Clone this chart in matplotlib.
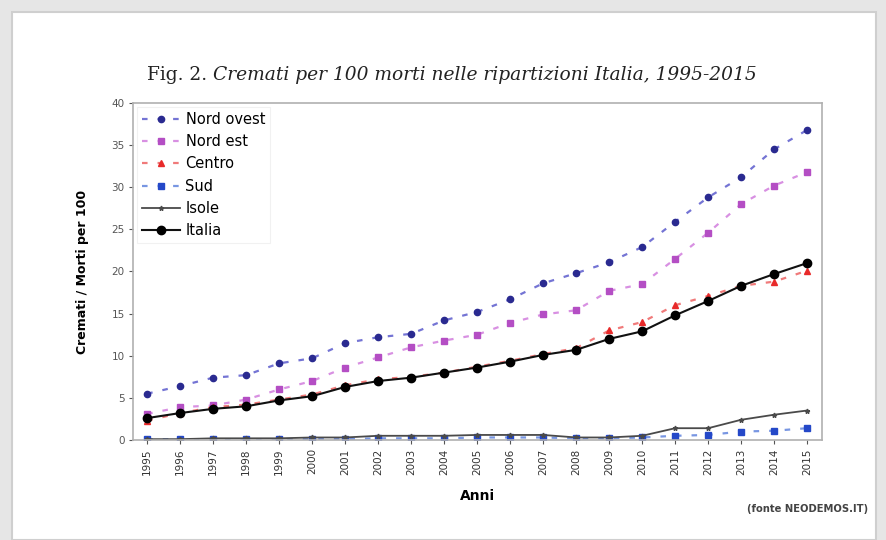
"""Fig. 2 - Cremati per 100 morti nelle ripartizioni Italia, 1995-2015."""
import matplotlib
matplotlib.use("Agg")
import matplotlib.pyplot as plt
from matplotlib.patches import Rectangle

YEARS = list(range(1995, 2016))

NORD_OVEST = [5.5, 6.4, 7.4, 7.7, 9.1, 9.7, 11.5, 12.2, 12.6, 14.2, 15.2,
              16.7, 18.6, 19.8, 21.1, 22.9, 25.9, 28.8, 31.2, 34.5, 36.8]
NORD_EST = [3.1, 3.9, 4.1, 4.8, 6.0, 7.0, 8.6, 9.8, 11.0, 11.8, 12.5,
            13.9, 14.9, 15.4, 17.7, 18.5, 21.5, 24.6, 28.0, 30.2, 31.8]
CENTRO = [2.3, 3.2, 3.9, 4.2, 4.8, 5.4, 6.5, 7.2, 7.5, 8.0, 8.7,
          9.4, 10.2, 10.9, 13.0, 14.0, 16.0, 17.1, 18.3, 18.8, 20.1]
SUD = [0.1, 0.1, 0.1, 0.1, 0.1, 0.1, 0.1, 0.2, 0.2, 0.2, 0.3,
       0.3, 0.3, 0.2, 0.2, 0.3, 0.5, 0.6, 1.0, 1.1, 1.4]
ISOLE = [0.1, 0.1, 0.2, 0.2, 0.2, 0.3, 0.3, 0.5, 0.5, 0.5, 0.6,
         0.6, 0.6, 0.3, 0.3, 0.5, 1.4, 1.4, 2.4, 3.0, 3.5]
ITALIA = [2.6, 3.2, 3.7, 4.0, 4.7, 5.2, 6.3, 7.0, 7.4, 8.0, 8.6,
          9.3, 10.1, 10.7, 12.0, 12.9, 14.8, 16.5, 18.3, 19.7, 21.0]

DASH = (0, (2.5, 4.5))

fig = plt.figure(figsize=(8.86, 5.40), dpi=100)
fig.patch.set_facecolor("#e6e6e6")
fig.add_artist(Rectangle((12 / 886, 0), 864 / 886, 528 / 540,
                         transform=fig.transFigure, facecolor="white",
                         edgecolor="#cfcfcf", lw=1.5, zorder=0))

ax = fig.add_axes([133 / 886, 100 / 540, 689 / 886, 337 / 540])
ax.set_facecolor("white")

ax.plot(YEARS, NORD_OVEST, ls=DASH, color="#7474d4", lw=1.6,
        marker="o", ms=4.5, mfc="#2a2a90", mec="#2a2a90", label="Nord ovest")
ax.plot(YEARS, NORD_EST, ls=DASH, color="#d890e2", lw=1.6,
        marker="s", ms=5, mfc="#b44ec4", mec="#b44ec4", label="Nord est")
ax.plot(YEARS, CENTRO, ls=DASH, color="#f07a7a", lw=1.6,
        marker="^", ms=5, mfc="#e82a2a", mec="#e82a2a", label="Centro")
ax.plot(YEARS, SUD, ls=DASH, color="#7896e2", lw=1.6,
        marker="s", ms=4.5, mfc="#2448c8", mec="#2448c8", label="Sud")
ax.plot(YEARS, ISOLE, ls="-", color="#4a4a4a", lw=1.3,
        marker="*", ms=3.5, mfc="#4a4a4a", mec="#4a4a4a", label="Isole")
ax.plot(YEARS, ITALIA, ls="-", color="#111111", lw=1.5,
        marker="o", ms=6, mfc="black", mec="black", label="Italia")

ax.set_xlim(1994.57, 2015.45)
ax.set_ylim(0, 40)
ax.set_yticks(range(0, 41, 5))
ax.set_xticks(YEARS)
ax.set_xticklabels([str(y) for y in YEARS], rotation=90)
ax.tick_params(axis="both", labelsize=7.5, colors="#555555",
               length=3, width=0.8, pad=3)
ax.tick_params(axis="x", labelcolor="#333333")
for s in ax.spines.values():
    s.set_color("#b0b0b0")
    s.set_linewidth(1.2)

ax.set_xlabel("Anni", fontsize=10, fontweight="bold", labelpad=10)
ax.set_ylabel("Cremati / Morti per 100", fontsize=9, fontweight="bold",
              labelpad=16)

leg = ax.legend(loc="upper left", fontsize=10.5, frameon=True, fancybox=False,
                borderpad=0.35, labelspacing=0.5, handlelength=2.6,
                handletextpad=0.4, borderaxespad=0.25)
leg.get_frame().set_edgecolor("#eeeeee")
leg.get_frame().set_linewidth(0.8)

# title: upright "Fig. 2." followed by italic text
ty = 1 - 75 / 540
t1 = fig.text(147 / 886, ty, "Fig. 2. ", fontsize=13.4, family="DejaVu Serif",
              color="#222222", va="center", ha="left")
renderer = fig.canvas.get_renderer()
x1 = t1.get_window_extent(renderer).x1 / fig.bbox.width
fig.text(x1, ty, "Cremati per 100 morti nelle ripartizioni Italia, 1995-2015",
         fontsize=13.4, style="italic", family="DejaVu Serif",
         color="#222222", va="center", ha="left")
fig.text(868 / 886, 1 - 509 / 540, "(fonte NEODEMOS.IT)", fontsize=7.2,
         fontweight="bold", color="#444444", ha="right", va="center")

fig.savefig("out.png", dpi=100, facecolor=fig.get_facecolor())
